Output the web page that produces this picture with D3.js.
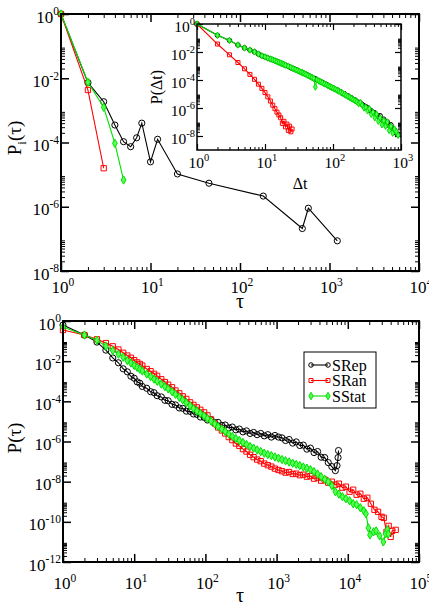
<!DOCTYPE html>
<html>
<head>
<meta charset="utf-8">
<script src="https://cdn.jsdelivr.net/npm/d3@7"></script>
<style>
  body { margin: 0; background: #fff; }
  svg text { font-family: "Liberation Serif", "DejaVu Serif", serif; fill: #000; }
</style>
</head>
<body>
<div id="chart"></div>
<script>
// ---- top panel, P_i(tau) ----
const topRepTau = [1, 2, 3, 4, 5, 6, 7, 8, 10, 12, 20, 45, 182, 497, 580, 1222];
const topRepP = [1, 7.3e-3, 1.86e-3, 3.5e-4, 1.06e-4, 7.4e-5, 1.4e-4, 4.0e-4, 2.5e-5, 1.26e-4, 1.05e-5, 5.4e-6, 2.15e-6, 2.1e-7, 9.0e-7, 8.7e-8];
const topRanTau = [1, 2, 3];
const topRanP = [1, 4.3e-3, 1.58e-5];
const topStatTau = [1, 2, 3, 4, 5];
const topStatP = [1, 7.5e-3, 1.25e-3, 9.4e-5, 6.8e-6];

// ---- inset, P(dt)  (values are log10 P) ----
const insetRanDt = [1, 2, 3, 4, 5, 6, 7, 8, 9, 10, 11, 12, 13, 14, 15, 16, 17, 18, 19, 20, 21, 22, 23, 24, 25];
const insetRanLogP = [0, -1.43, -2.2, -2.75, -3.2, -3.6, -3.95, -4.3, -4.6, -4.9, -5.2, -5.5, -5.8, -6.05, -6.3, -6.5, -6.7, -7.1, -6.95, -7.35, -7.15, -7.6, -7.3, -7.7, -7.5];

const insetDt = [1, 2, 3, 4, 5, 6, 7, 8, 9, 10, 11, 12, 13, 14, 15, 16, 17, 18, 19, 20, 22, 24, 26, 28, 30, 32, 34, 36, 38, 40,
  43, 46, 49, 52, 55, 58, 62, 66, 70, 75, 80, 85, 90, 96, 102, 108, 115, 122, 130, 138, 147, 156, 166, 176, 187, 199,
  211, 224, 238, 253, 269, 286, 304, 323, 343, 365, 388, 412, 438, 465, 494, 525, 558, 593, 630, 669, 711, 755, 802, 852, 905];
const insetStatLogP = [0, -0.81, -1.17, -1.5, -1.71, -1.86, -1.99, -2.14, -2.27, -2.35, -2.43, -2.5, -2.56, -2.62, -2.68, -2.74, -2.79, -2.85, -2.89, -2.94,
  -3.02, -3.11, -3.19, -3.26, -3.32, -3.38, -3.44, -3.5, -3.55, -3.6, -3.68, -3.75, -3.82, -3.88, -4.5, -3.99, -4.07, -4.14, -4.2, -4.28,
  -4.34, -4.41, -4.47, -4.54, -4.6, -4.66, -4.73, -4.8, -4.87, -4.95, -5.02, -5.1, -5.18, -5.25, -5.33, -5.4, -5.47, -5.55, -5.7, -5.6,
  -5.8, -6.0, -5.95, -6.2, -6.05, -6.45, -6.3, -6.7, -6.45, -6.95, -6.7, -7.2, -6.9, -7.3, -7.0, -7.6, -7.3, -7.8, -7.5, -7.7, -7.95];
const insetRepLogP = [0, -0.81, -1.17, -1.5, -1.71, -1.86, -1.99, -2.14, -2.27, -2.35, -2.43, -2.5, -2.56, -2.62, -2.68, -2.74, -2.79, -2.85, -2.89, -2.94,
  -3.02, -3.11, -3.19, -3.26, -3.3, -3.38, -3.42, -3.5, -3.53, -3.6, -3.66, -3.75, -3.8, -3.88, -3.92, -3.99, -4.05, -4.14, -4.18, -4.28,
  -4.32, -4.41, -4.45, -4.54, -4.58, -4.66, -4.7, -4.8, -4.84, -4.95, -4.98, -5.1, -5.12, -5.25, -5.28, -5.4, -5.42, -5.55, -5.6, -5.65,
  -5.75, -5.85, -5.9, -6.0, -6.1, -6.2, -6.3, -6.35, -6.5, -6.6, -6.55, -6.85, -6.8, -7.05, -7.0, -7.25, -7.2, -7.45, -7.55, -7.8, -7.9];

// ---- bottom panel, P(tau)  (log10 P) ----
const bottomTau = [1, 2, 3, 4, 5, 6, 7, 8, 9, 10, 11, 12, 13, 15, 17, 19, 21, 24, 27, 30, 34, 38, 43, 48, 54, 61, 68, 76, 85, 96,
  107, 120, 135, 151, 170, 190, 213, 239, 268, 300, 337, 378, 424, 475, 533, 598, 671, 752, 844, 947, 1062, 1191, 1336, 1499, 1682, 1887,
  2117, 2375, 2665, 2990, 3354, 3763, 4222, 4737, 5315, 5963, 6690];
const repTail = [7050, 7300, 7400];
const ranTail = [7500, 8400, 9400, 10600, 11900, 13300, 15000, 16800, 18800, 21100, 23700, 26600, 29800, 32000, 35000, 37500, 40000, 42000, 47000];
const statTail = [7500, 8400, 9400, 10600, 11900, 13300, 15000, 16800, 18000, 19500, 20500, 23000, 25000, 28000, 31600, 34000, 36000, 37000];

const repLogP = [-0.2, -0.7, -1.05, -1.45, -1.84, -2.08, -2.38, -2.53, -2.75, -2.85, -3.03, -3.1, -3.26, -3.35, -3.52, -3.57, -3.72, -3.78, -3.95, -3.97,
  -4.15, -4.18, -4.33, -4.35, -4.49, -4.5, -4.63, -4.65, -4.78, -4.8, -4.93, -4.92, -5.06, -5.05, -5.2, -5.18, -5.32, -5.28, -5.42, -5.38,
  -5.52, -5.47, -5.6, -5.55, -5.66, -5.6, -5.72, -5.66, -5.78, -5.7, -5.78, -5.82, -5.95, -5.9, -6.08, -6.02, -6.2, -6.18, -6.38, -6.33,
  -6.55, -6.5, -6.78, -6.8, -7.05, -7.25, -7.45,
  -7.2, -6.8, -6.45];
const ranLogP = [-0.45, -0.7, -0.91, -1.1, -1.26, -1.42, -1.58, -1.72, -1.83, -1.95, -2.06, -2.14, -2.22, -2.39, -2.5, -2.63, -2.73, -2.9, -3.04, -3.17,
  -3.3, -3.46, -3.6, -3.75, -3.88, -4.05, -4.18, -4.3, -4.42, -4.55, -4.7, -4.9, -5.1, -5.3, -5.45, -5.6, -5.78, -5.93, -6.1, -6.22,
  -6.38, -6.5, -6.66, -6.78, -6.9, -6.98, -7.1, -7.18, -7.25, -7.35, -7.42, -7.48, -7.55, -7.52, -7.62, -7.6, -7.68, -7.65, -7.75, -7.72,
  -7.85, -7.8, -7.95, -7.9, -8.05, -8.0, -8.15,
  -8.1, -8.3, -8.25, -8.5, -8.4, -8.65, -8.6, -8.85, -8.8, -9.1, -9.4, -9.5, -9.75, -9.8, -10.5, -10.2, -10.75, -10.45, -10.4];
const statLogP = [-0.3, -0.7, -0.96, -1.25, -1.47, -1.65, -1.8, -1.97, -2.09, -2.21, -2.31, -2.4, -2.49, -2.64, -2.77, -2.89, -3.0, -3.14, -3.27, -3.38,
  -3.52, -3.65, -3.8, -3.93, -4.07, -4.22, -4.36, -4.48, -4.6, -4.73, -4.85, -4.98, -5.12, -5.25, -5.38, -5.5, -5.63, -5.75, -5.85, -5.95,
  -6.05, -6.15, -6.25, -6.33, -6.42, -6.5, -6.58, -6.65, -6.7, -6.77, -6.83, -6.9, -6.96, -7.02, -7.08, -7.14, -7.2, -7.27, -7.33, -7.4,
  -7.5, -7.62, -7.75, -7.88, -8.0, -8.2, -8.5,
  -8.62, -8.75, -8.85, -8.95, -9.1, -9.15, -9.3, -9.45, -9.6, -10.3, -10.65, -10.5, -10.45, -10.7, -11.0, -10.6, -10.4, -10.6];

const legendNames = ["SRep", "SRan", "SStat"];
const seriesColors = ["#000000", "#ff0000", "#00e000"];
const serif = "'Liberation Serif', 'DejaVu Serif', serif";

// helpers
const pts = (xs, ps) => xs.map((x, i) => [x, ps[i]]);
const logPts = (xs, ls) => xs.map((x, i) => [x, Math.pow(10, ls[i])]);

const svg = d3.select("#chart").append("svg")
    .attr("width", 429)
    .attr("height", 605)
    .style("font-family", serif);

function logTicks(lo, hi, step) {
    const major = [], minor = [];
    for (let e = lo; e <= hi; e += step) {
        major.push(Math.pow(10, e));
        if (e < hi) for (let k = 2; k <= 9; k++) minor.push(k * Math.pow(10, e));
    }
    return { major, minor };
}

function label(g, xx, yy, anchor, fs, exp) {
    const t = g.append("text")
        .attr("x", xx).attr("y", yy)
        .attr("text-anchor", anchor).attr("font-size", fs)
        .style("font-family", serif);
    t.append("tspan").text("10");
    t.append("tspan").attr("dy", -fs * 0.42).attr("font-size", fs * 0.68).text(exp);
    return t;
}

function panel(o) {
    const g = svg.append("g");
    const x = d3.scaleLog().domain(o.xDomain).range([o.left, o.right]);
    const y = d3.scaleLog().domain(o.yDomain).range([o.bottom, o.top]);
    g.append("rect")
        .attr("x", o.left).attr("y", o.top)
        .attr("width", o.right - o.left).attr("height", o.bottom - o.top)
        .attr("fill", "#fff");

    const xt = logTicks(o.xExp[0], o.xExp[1], 1);
    const yt = logTicks(o.yExp[0], o.yExp[1], 2);
    const sides = [
        [d3.axisBottom(x), `translate(0,${o.bottom})`, xt],
        [d3.axisTop(x), `translate(0,${o.top})`, xt],
        [d3.axisLeft(y), `translate(${o.left},0)`, yt],
        [d3.axisRight(y), `translate(${o.right},0)`, yt]
    ];
    sides.forEach(([ax, tr, t]) => {
        [[t.major, o.majorLen, o.majorW], [t.minor, o.minorLen, 1]].forEach(([vals, len, w]) => {
            const a = g.append("g").attr("transform", tr)
                .call(ax.tickValues(vals).tickSize(-len).tickFormat(() => ""));
            a.select(".domain").remove();
            a.selectAll("line").attr("stroke-width", w);
        });
    });

    // tick labels: 10 with superscript exponent
    xt.major.forEach(v => label(g, x(v) + 2, o.bottom + o.xLabelDy, "middle", o.fs, Math.round(Math.log10(v))));
    yt.major.forEach(v => label(g, o.left - 2, y(v) + o.fs * 0.5, "end", o.fs, Math.round(Math.log10(v))));
    return { g, x, y, o };
}

function frame(p) {
    p.g.append("rect")
        .attr("x", p.o.left).attr("y", p.o.top)
        .attr("width", p.o.right - p.o.left).attr("height", p.o.bottom - p.o.top)
        .attr("fill", "none").attr("stroke", "#000").attr("stroke-width", p.o.frameW);
}

const symbols = [d3.symbolCircle, d3.symbolSquare, d3.symbolDiamond];

function series(p, data, idx, size) {
    const line = d3.line().x(d => p.x(d[0])).y(d => p.y(d[1]));
    const col = seriesColors[idx];
    p.g.append("path").datum(data)
        .attr("d", line).attr("fill", "none")
        .attr("stroke", col).attr("stroke-width", 1.1);
    p.g.selectAll(null).data(data).join("path")
        .attr("transform", d => `translate(${p.x(d[0])},${p.y(d[1])})`)
        .attr("d", d3.symbol(symbols[idx], size))
        .attr("fill", idx === 2 ? "#55ff55" : "none")
        .attr("stroke", col).attr("stroke-width", 1);
}

function title(g, xx, yy, fs, txt, rotate) {
    return g.append("text")
        .attr("transform", `translate(${xx},${yy})` + (rotate ? " rotate(-90)" : ""))
        .attr("text-anchor", "middle").attr("font-size", fs)
        .style("font-family", serif).text(txt);
}

// top panel
const topPanel = panel({ left: 61, right: 419, top: 14, bottom: 271, xDomain: [1, 1e4], yDomain: [1e-8, 1],
    xExp: [0, 4], yExp: [-8, 0], majorLen: 8, minorLen: 4, majorW: 1.5, fs: 17, xLabelDy: 22, frameW: 2 });
series(topPanel, pts(topRepTau, topRepP), 0, 30);
series(topPanel, pts(topRanTau, topRanP), 1, 28);
series(topPanel, pts(topStatTau, topStatP), 2, 20);
frame(topPanel);

title(topPanel.g, 21, 138, 19, "", true)
    .call(t => {
        t.append("tspan").text("P");
        t.append("tspan").attr("dy", 5).attr("font-size", 13).text("i");
        t.append("tspan").attr("dy", -5).text("(τ)");
    });
title(topPanel.g, 240, 308, 20, "τ", false);

// inset
const inset = panel({ left: 197, right: 401, top: 24, bottom: 150, xDomain: [1, 1e3], yDomain: [1e-9, 1],
    xExp: [0, 3], yExp: [-8, 0], majorLen: 6, minorLen: 3, majorW: 1.2, fs: 15.5, xLabelDy: 18, frameW: 1.5 });
series(inset, logPts(insetRanDt, insetRanLogP), 1, 16);
series(inset, logPts(insetDt, insetRepLogP), 0, 16);
series(inset, logPts(insetDt, insetStatLogP), 2, 12);
frame(inset);
title(inset.g, 162, 87, 16, "P(Δt)", true);
title(inset.g, 300, 189, 16, "Δt", false);

// bottom panel
const bottomPanel = panel({ left: 63, right: 419, top: 321, bottom: 562, xDomain: [1, 1e5], yDomain: [1e-12, 1],
    xExp: [0, 5], yExp: [-12, 0], majorLen: 8, minorLen: 4, majorW: 1.5, fs: 17, xLabelDy: 27, frameW: 2 });
series(bottomPanel, logPts(bottomTau.concat(repTail), repLogP), 0, 30);
series(bottomPanel, logPts(bottomTau.concat(ranTail), ranLogP), 1, 28);
series(bottomPanel, logPts(bottomTau.concat(statTail), statLogP), 2, 20);
frame(bottomPanel);

title(bottomPanel.g, 21, 438, 19, "P(τ)", true);
title(bottomPanel.g, 240, 602, 20, "τ", false);

// legend
const leg = bottomPanel.g.append("g");
leg.append("rect").attr("x", 304).attr("y", 352).attr("width", 72).attr("height", 56)
    .attr("fill", "#fff").attr("stroke", "#000").attr("stroke-width", 1);
legendNames.forEach((name, i) => {
    const yy = 365 + i * 15.5;
    const col = seriesColors[i];
    leg.append("line").attr("x1", 311).attr("x2", 328).attr("y1", yy).attr("y2", yy)
        .attr("stroke", col).attr("stroke-width", 1.1);
    [311, 328].forEach(xx => leg.append("path")
        .attr("transform", `translate(${xx},${yy})`)
        .attr("d", d3.symbol(symbols[i], 16))
        .attr("fill", i === 2 ? "#55ff55" : "none").attr("stroke", col));
    leg.append("text").attr("x", 332).attr("y", yy + 5.5).attr("font-size", 16)
        .style("font-family", serif).text(name);
});
</script>
</body>
</html>
